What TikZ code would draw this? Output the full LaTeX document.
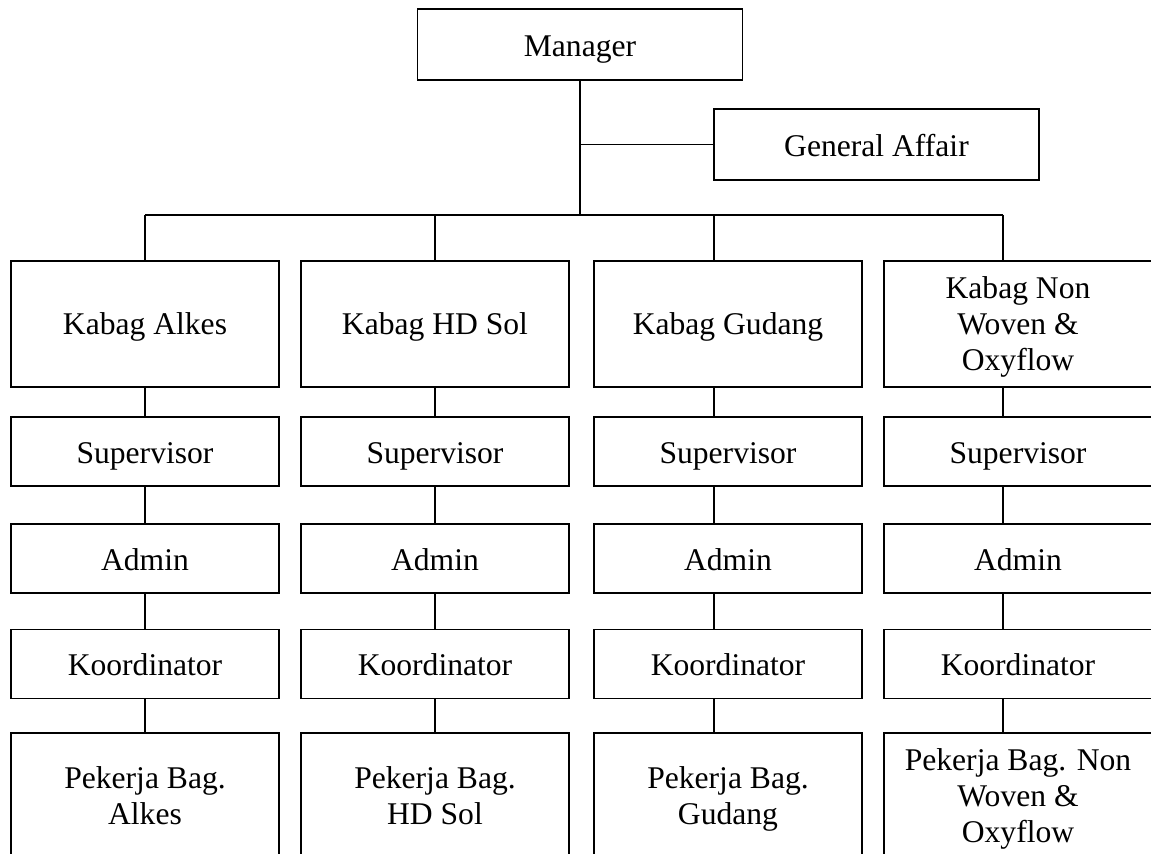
\documentclass[tikz,border=0pt]{standalone}
\usepackage{fontspec}
\setmainfont{Liberation Serif}
\usetikzlibrary{positioning, calc}

\tikzset{
    unitbox/.style = {draw, rectangle, inner sep = 0pt, align = center,
                      minimum width = 134pt, minimum height = 34.5pt,
                      text height = 12pt, text depth = 0pt,
                      font = \fontsize{15.8}{18}\selectfont},
    tallbox/.style = {draw, rectangle, inner sep = 0pt, align = center,
                      minimum width = 134pt, minimum height = 63pt,
                      text depth = 0pt,
                      font = \fontsize{15.8}{18}\selectfont},
    headbox/.style = {unitbox, minimum width = 162.5pt, minimum height = 35.5pt}
}

\begin{document}
\begin{tikzpicture}[x = 0.5pt, y = -0.5pt, line width = 0.75pt]

    \clip (0,0) rectangle (1151,854);

    \def\busY{215}

    \node[headbox] (mgr) at (580,44.5)  {Manager};
    \node[headbox] (ga)  at (876.5,144.5) {General Affair};

    \coordinate (bus) at (580,\busY);
    \draw (mgr.south) -- (bus);
    \draw (ga.west -| bus) -- (ga.west);

    \foreach \i/\cx/\lx/\kabag/\pkj in {
            1/145/145/{Kabag Alkes}/{Pekerja Bag.\\Alkes},
            2/435/435/{Kabag HD Sol}/{Pekerja Bag.\\HD Sol},
            3/728/714/{Kabag Gudang}/{Pekerja Bag.\\Gudang},
            4/1018/1003/{Kabag Non\\Woven \&\\Oxyflow}/{Pekerja Bag. Non\\Woven \&\\Oxyflow}} {
        \coordinate (top\i) at (\lx,\busY);
        \node[tallbox] (kabag\i) at (\cx,324)   {\kabag};
        \node[unitbox] (spv\i)   at (\cx,451.5) {Supervisor};
        \node[unitbox] (adm\i)   at (\cx,558.5) {Admin};
        \node[unitbox] (koor\i)  at (\cx,664)   {Koordinator};
        \node[tallbox] (pkj\i)   at (\cx,796)   {\pkj};
        \draw (top\i) -- (top\i |- kabag\i.north);
        \foreach \u/\v in {kabag/spv, spv/adm, adm/koor, koor/pkj}
            \draw (\u\i.south -| top\i) -- (\v\i.north -| top\i);
    }

    \draw (top1) -- (top4);

\end{tikzpicture}
\end{document}
